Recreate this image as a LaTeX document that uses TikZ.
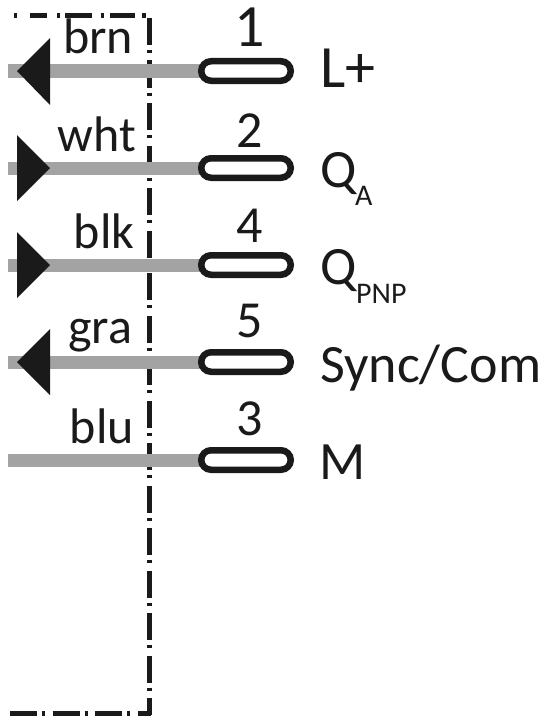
\documentclass[tikz,border=0pt]{standalone}
\usepackage{fontspec}
\setmainfont{Carlito}
\usetikzlibrary{shapes.misc,backgrounds}
\definecolor{wiregray}{HTML}{A3A3A3}
\definecolor{inkblack}{HTML}{1A1A1A}
\tikzset{
  x=1pt,y=-1pt,
  pad/.style={rounded rectangle,draw=inkblack,fill=white,line width=6.5pt,minimum width=89.5pt,minimum height=19.5pt,inner sep=0pt,outer sep=0pt},
  wire/.style={draw=wiregray,line width=13pt},
  border/.style={draw=inkblack,line width=5pt,dash pattern=on 27pt off 5pt on 3pt off 7.5pt},
  wirelabel/.style={anchor=base,font=\fontsize{50}{50}\selectfont,text=inkblack,inner sep=0pt},
  pinlabel/.style={anchor=base,font=\fontsize{52}{52}\selectfont,text=inkblack,inner sep=0pt},
  signal/.style={anchor=base west,font=\fontsize{54}{54}\selectfont,text=inkblack,inner sep=0pt},
  subs/.style={anchor=base west,font=\fontsize{30}{30}\selectfont,text=inkblack,inner sep=0pt},
  tri/.style={fill=inkblack,draw=none}
}
\begin{document}
\begin{tikzpicture}
\useasboundingbox (0,0) rectangle (546,717);
% border (below the wires)
\coordinate (tl) at (14,15.5);
\coordinate (tr) at (149,15.5);
\coordinate (bl) at (10,713);
\coordinate (br) at (151,713);
\coordinate (vt) at (149,18);
\coordinate (vb) at (149,715);
\begin{pgfonlayer}{background}
\draw[border] (vt) -- (vb);
\draw[inkblack,line width=5pt,dash pattern=on 3pt off 13pt on 17pt off 10pt on 3pt off 5pt on 27pt off 8.5pt on 3pt off 6.5pt on 25pt off 7pt on 4pt off 20pt] (tl) -- (tr);
\draw[border] (bl) -- (br);
\end{pgfonlayer}
% pads and wires
\foreach \n/\y in {a/71,b/168,c/265,d/362,e/460}{
  \coordinate (w\n) at (8,\y);
  \node[pad] (p\n) at (246,\y) {};
  \begin{pgfonlayer}{background}
    \draw[wire] (w\n) -- (p\n.west);
  \end{pgfonlayer}
}
% triangles
\fill[tri] (17,71) -- (50,38) -- (50,105) -- cycle;
\fill[tri] (50,168) -- (17,135) -- (17,201) -- cycle;
\fill[tri] (50,265) -- (17,232) -- (17,298) -- cycle;
\fill[tri] (17,362) -- (50,329) -- (50,395) -- cycle;
% wire labels
\node[wirelabel] (lb1) at (98,53) {brn};
\node[wirelabel] (lb2) at (97,151) {wht};
\node[wirelabel] (lb3) at (104,248) {blk};
\node[wirelabel] (lb4) at (100,343) {gra};
\node[wirelabel] (lb5) at (102,443) {blu};
% pin numbers
\node[pinlabel,font=\fontsize{60}{60}\selectfont] (n1) at (250,47) {1};
\node[pinlabel] (n2) at (250,147) {2};
\node[pinlabel] (n4) at (250,242) {4};
\node[pinlabel] (n5) at (250,337) {5};
\node[pinlabel] (n3) at (250,435) {3};
% signals
\node[signal,font=\fontsize{60}{60}\selectfont] (s1) at (320,87) {L+};
\node[signal] (s2) at (320,187) {Q};
\node[subs] (s2s) at (355,205) {A};
\node[signal] (s4) at (320,284) {Q};
\node[subs] (s4s) at (356,303) {PNP};
\node[signal] (s5) at (320,382) {Sync/Com};
\node[signal] (s3) at (319,479) {M};
\end{tikzpicture}
\end{document}
